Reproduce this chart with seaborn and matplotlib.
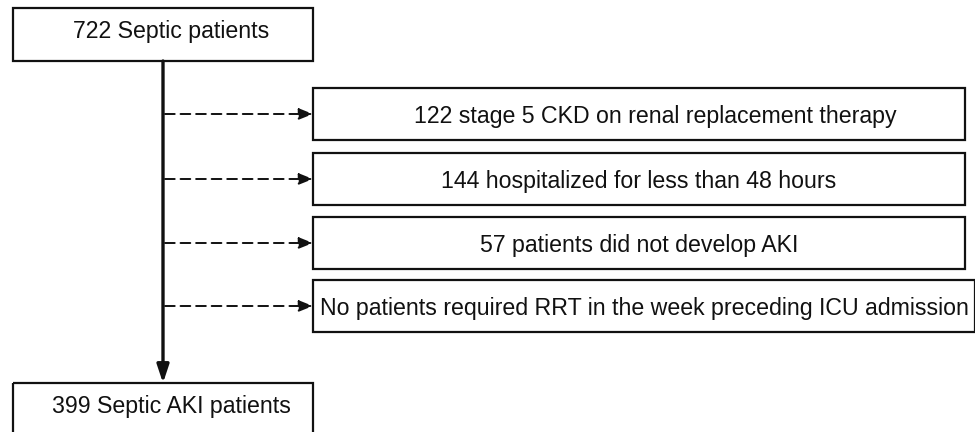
import matplotlib
matplotlib.use("Agg")
import matplotlib.pyplot as plt
import seaborn as sns
from matplotlib.patches import Rectangle

# ==========================================
# DATA
# ==========================================

start_label = "722 Septic patients"
end_label = "399 Septic AKI patients"

exclusion_counts = ["122", "144", "57", "No"]
exclusion_reasons = [
    "stage 5 CKD on renal replacement therapy",
    "hospitalized for less than 48 hours",
    "patients did not develop AKI",
    "patients required RRT in the week preceding ICU admission",
]

# ==========================================
# STYLE
# ==========================================

sns.set_theme(style="white")
plt.rcParams["font.family"] = ["Liberation Sans", "DejaVu Sans"]

fig = plt.figure(figsize=(9.75, 4.32), dpi=100)
ax = fig.add_axes([0, 0, 1, 1])
ax.set_xlim(0, 975)
ax.set_ylim(432, 0)
ax.axis("off")

fs = 16.7
lw_box = 1.6

# ==========================================
# MAIN BOXES
# ==========================================

main_x0, main_x1 = 13, 313
top_y0, top_y1 = 8, 61
bot_y0, bot_y1 = 383, 445

for y0, y1, label in [(top_y0, top_y1, start_label), (bot_y0, bot_y1, end_label)]:
    ax.add_patch(Rectangle((main_x0, y0), main_x1 - main_x0, y1 - y0,
                           fill=False, edgecolor="#111111", linewidth=lw_box))
    ax.text((main_x0 + main_x1) / 2 + 8, y0 + 21, label, ha="center",
            va="center_baseline", fontsize=fs, color="#111111")

spine_x = (main_x0 + main_x1) / 2

# vertical arrow
ax.annotate("", xy=(spine_x, bot_y0), xytext=(spine_x, top_y1),
            arrowprops=dict(arrowstyle="-|>,head_length=0.9,head_width=0.3",
                            color="#111111", lw=2.4, shrinkA=0, shrinkB=0))

# ==========================================
# EXCLUSION BOXES
# ==========================================

exc_x0 = 313
exc_right = [965, 965, 965, 975]
exc_y0 = [88, 153, 217, 280]
exc_h = 52

for i, (cnt, reason) in enumerate(zip(exclusion_counts, exclusion_reasons)):
    y0 = exc_y0[i]
    x1 = exc_right[i]
    ax.add_patch(Rectangle((exc_x0, y0), x1 - exc_x0, exc_h, fill=False,
                           edgecolor="#111111", linewidth=lw_box))
    ym = y0 + exc_h / 2
    ax.text((exc_x0 + x1) / 2 + (16 if i == 0 else 0), ym, f"{cnt} {reason}",
            ha="center", va="center_baseline", fontsize=fs, color="#111111")
    ax.annotate("", xy=(exc_x0, ym), xytext=(spine_x + 2, ym),
                arrowprops=dict(arrowstyle="-|>,head_length=0.7,head_width=0.28",
                                color="#111111", lw=1.4, linestyle=(0, (5, 3)),
                                shrinkA=0, shrinkB=0))

fig.savefig("out.png", dpi=100)
